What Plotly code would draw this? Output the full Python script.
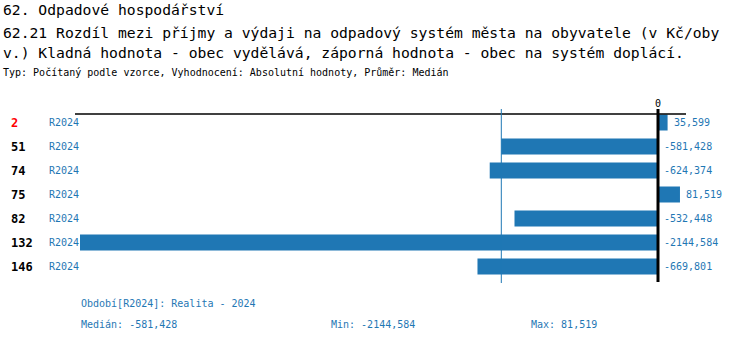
import numpy as np
import plotly.graph_objects as go

# Municipality codes, period labels and values (Kč per inhabitant)
codes = ["2", "51", "74", "75", "82", "132", "146"]
periods = ["R2024"] * 7
values = [35.599, -581.428, -624.374, 81.519, -532.448, -2144.584, -669.801]
highlight = "2"

title_lines = [
    "62. Odpadové hospodářství",
    "62.21 Rozdíl mezi příjmy a výdaji na odpadový systém města na obyvatele (v Kč/oby",
    "v.) Kladná hodnota - obec vydělává, záporná hodnota - obec na systém doplácí.",
]
subtitle = "Typ: Počítaný podle vzorce, Vyhodnocení: Absolutní hodnoty, Průměr: Medián"
period_note = "Období[R2024]: Realita - 2024"

W, H = 750, 342
BLUE = "#1f77b4"
MONO = "DejaVu Sans Mono"

vmin, vmax = min(values), max(values)
median = float(np.median(values))


def fmt(v):
    return f"{v:.3f}".replace(".", ",")


# pixel geometry of the plotting band
zero_px, min_px = 658, 80
k = (zero_px - min_px) / abs(vmin)          # px per unit
x_range = [-zero_px / k, (W - zero_px) / k]
row0, row_step = 122.5, 24
y_range = [(H - row0) / row_step, -row0 / row_step]

idx = list(range(len(codes)))

fig = go.Figure(
    go.Bar(
        x=values,
        y=idx,
        orientation="h",
        width=16 / row_step,
        marker=dict(color=BLUE, line=dict(width=0)),
        hoverinfo="skip",
    )
)

fig.update_layout(
    width=W,
    height=H,
    margin=dict(l=0, r=0, t=0, b=0),
    paper_bgcolor="white",
    plot_bgcolor="white",
    showlegend=False,
    xaxis=dict(range=x_range, visible=False, fixedrange=True),
    yaxis=dict(range=y_range, visible=False, fixedrange=True),
)


def px_x(p):
    return p / W


def px_y(p):
    return 1 - p / H


ann = []
# header
for txt, yy in zip(title_lines, [10, 32, 53]):
    ann.append(dict(x=px_x(1), y=px_y(yy), text=txt, font=dict(family=MONO, size=14.7, color="black")))
ann.append(dict(x=px_x(1), y=px_y(73), text=subtitle, font=dict(family=MONO, size=10, color="black")))

# row labels
for i, (c, p) in enumerate(zip(codes, periods)):
    col = "red" if c == highlight else "black"
    ann.append(dict(x=px_x(9), y=i, yref="y", text=f"<b>{c}</b>",
                    font=dict(family=MONO, size=12, color=col)))
    ann.append(dict(x=px_x(47), y=i, yref="y", text=p,
                    font=dict(family=MONO, size=10, color=BLUE)))

# value labels
for i, v in enumerate(values):
    ann.append(dict(x=max(v, 0), xref="x", y=i, yref="y", text=fmt(v), xshift=4,
                    font=dict(family=MONO, size=10, color=BLUE)))

# zero tick label
ann.append(dict(x=0, xref="x", y=px_y(103), text="0", xanchor="center",
                font=dict(family=MONO, size=10, color="black")))

# footer
ann.append(dict(x=px_x(79), y=px_y(303), text=period_note, font=dict(family=MONO, size=10, color=BLUE)))
ann.append(dict(x=px_x(79), y=px_y(324), text="Medián: " + fmt(median), font=dict(family=MONO, size=10, color=BLUE)))
ann.append(dict(x=px_x(329), y=px_y(324), text="Min: " + fmt(vmin), font=dict(family=MONO, size=10, color=BLUE)))
ann.append(dict(x=px_x(529), y=px_y(324), text="Max: " + fmt(vmax), font=dict(family=MONO, size=10, color=BLUE)))

for a in ann:
    a.setdefault("xref", "paper")
    a.setdefault("yref", "paper")
    a.setdefault("xanchor", "left")
    a.setdefault("yanchor", "middle")
    a["showarrow"] = False
fig.update_layout(annotations=ann)

shapes = [
    # top rule
    dict(type="line", xref="paper", yref="paper", x0=px_x(75), x1=px_x(686),
         y0=px_y(114), y1=px_y(114), line=dict(color="black", width=1.5)),
    # median line
    dict(type="line", xref="x", yref="paper", x0=median, x1=median,
         y0=px_y(109), y1=px_y(283), line=dict(color=BLUE, width=1)),
    # zero line
    dict(type="line", xref="x", yref="paper", x0=0, x1=0,
         y0=px_y(109), y1=px_y(282), line=dict(color="black", width=3)),
]
fig.update_layout(shapes=shapes)

fig.write_html("out.html")
